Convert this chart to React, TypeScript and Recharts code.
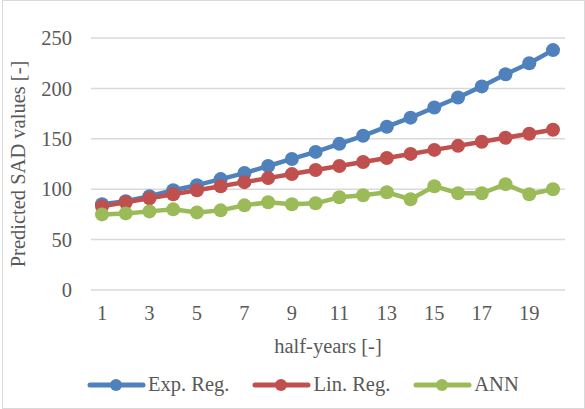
import { CartesianGrid, Legend, Line, LineChart, XAxis, YAxis } from "recharts";

const halfYears = [1, 2, 3, 4, 5, 6, 7, 8, 9, 10, 11, 12, 13, 14, 15, 16, 17, 18, 19, 20];
const expReg = [85, 88, 93, 99, 104, 110, 116, 123, 130, 137, 145, 153, 162, 171, 181, 191, 202, 214, 225, 238];
const linReg = [83, 87, 91, 95, 99, 103, 107, 111, 115, 119, 123, 127, 131, 135, 139, 143, 147, 151, 155, 159];
const ann = [75, 76, 78, 80, 77, 79, 84, 87, 85, 86, 92, 94, 97, 90, 103, 96, 96, 105, 95, 100];
const yTicks = [0, 50, 100, 150, 200, 250];

const seriesDefs = [
  { key: "exp", name: "Exp. Reg.", color: "#4f81bd" },
  { key: "lin", name: "Lin. Reg.", color: "#c0504d" },
  { key: "ann", name: "ANN", color: "#9bbb59" },
];

const data = halfYears.map((h, i) => ({ h, exp: expReg[i], lin: linReg[i], ann: ann[i] }));

const FONT = "Liberation Serif";
const FS = 20.5;
const TEXT = "#595959";

function LegendRow() {
  return (
    <div
      style={{
        display: "flex",
        justifyContent: "flex-start",
        paddingLeft: 85,
        marginTop: 8,
        gap: 21,
        fontFamily: FONT,
        fontSize: FS,
        color: TEXT,
      }}
    >
      {seriesDefs.map((s) => (
        <div key={s.key} style={{ display: "flex", alignItems: "center" }}>
          <svg width={62} height={16} style={{ marginRight: 1 }}>
            <line x1={5} y1={8} x2={58} y2={8} stroke={s.color} strokeWidth={5} strokeLinecap="round" />
            <circle cx={31} cy={8} r={6} fill={s.color} />
          </svg>
          <span>{s.name}</span>
        </div>
      ))}
    </div>
  );
}

export default function App() {
  return (
    <div style={{ position: "absolute", left: 0, top: 0, width: 585, height: 409, background: "#fff", fontFamily: FONT }}>
      <div style={{ position: "absolute", left: 2, top: 0, width: 581, height: 407, border: "1px solid #d9d9d9" }} />
      <LineChart width={585} height={409} data={data} margin={{ top: 38, right: 20, left: 0, bottom: 10 }} style={{ fontFamily: FONT }}>
        <CartesianGrid vertical={false} stroke="#d9d9d9" strokeWidth={1.5} />
        <XAxis
          dataKey="h"
          interval={1}
          padding={{ left: 11, right: 12 }}
          axisLine={false}
          tickLine={false}
          tickSize={0}
          tickMargin={15}
          height={75}
          tick={{ fill: TEXT, fontSize: FS, fontFamily: FONT }}
          label={{ value: "half-years [-]", position: "insideBottom", offset: 12, fill: TEXT, fontSize: FS, fontFamily: FONT }}
        />
        <YAxis
          width={91}
          domain={[0, 250]}
          ticks={yTicks}
          axisLine={false}
          tickLine={false}
          tickSize={0}
          tickMargin={19}
          tick={{ fill: TEXT, fontSize: FS, fontFamily: FONT }}
          label={{
            value: "Predicted SAD values [-]",
            angle: -90,
            position: "insideLeft",
            offset: 18,
            style: { textAnchor: "middle", fontFamily: FONT },
            fill: TEXT,
            fontSize: FS,
          }}
        />
        <Legend verticalAlign="bottom" height={34} content={() => <LegendRow />} />
        {seriesDefs.map((s) => (
          <Line
            key={s.key}
            dataKey={s.key}
            name={s.name}
            stroke={s.color}
            strokeWidth={4.5}
            dot={{ r: 7, fill: s.color, stroke: s.color, strokeWidth: 0 }}
            isAnimationActive={false}
          />
        ))}
      </LineChart>
    </div>
  );
}
